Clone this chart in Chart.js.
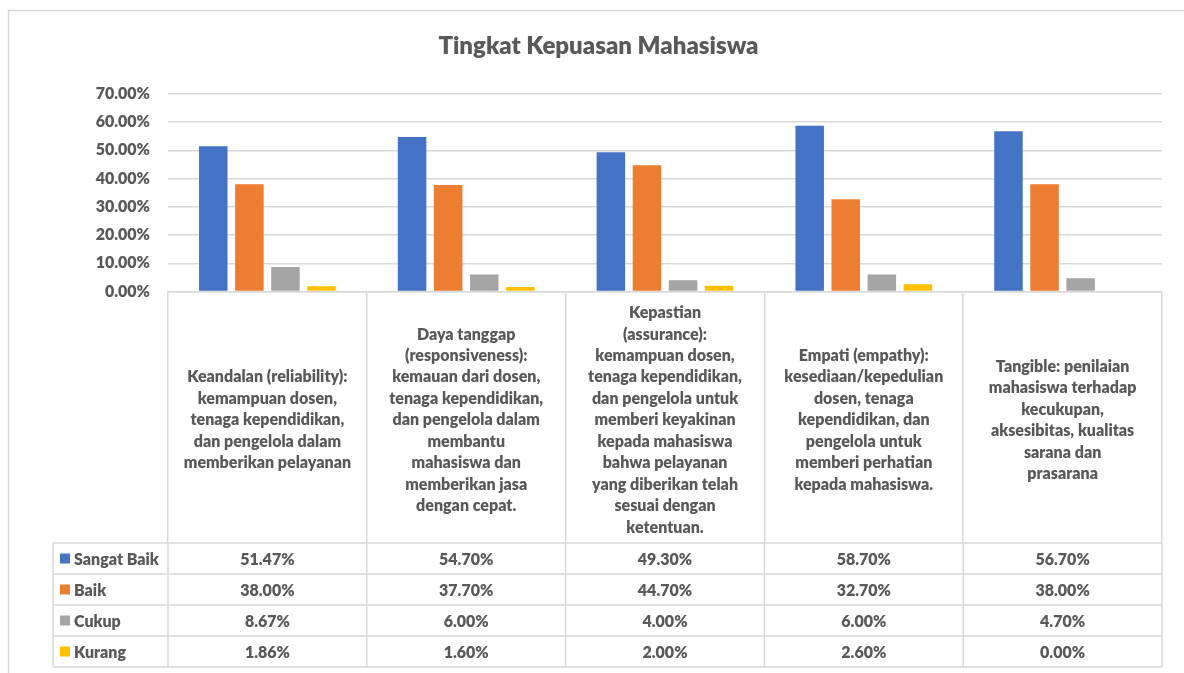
<!DOCTYPE html>
<html>
<head>
<meta charset="utf-8">
<title>Tingkat Kepuasan Mahasiswa</title>
<script src="https://cdn.jsdelivr.net/npm/chart.js@4.4.1/dist/chart.umd.min.js"></script>
<style>
  html, body { margin: 0; padding: 0; background: #fff; overflow: hidden; }
  #wrap { position: relative; width: 1184px; height: 673px; }
</style>
</head>
<body>
<div id="wrap"><canvas id="myChart" width="1184" height="673"></canvas></div>
<script>
// aspek kepuasan (label kategori, per baris)
const categories = [
  ["Keandalan (reliability):", "kemampuan dosen,", "tenaga kependidikan,", "dan pengelola dalam", "memberikan pelayanan"],
  ["Daya tanggap", "(responsiveness):", "kemauan dari dosen,", "tenaga kependidikan,", "dan pengelola dalam", "membantu", "mahasiswa dan", "memberikan jasa", "dengan cepat."],
  ["Kepastian", "(assurance):", "kemampuan dosen,", "tenaga kependidikan,", "dan pengelola untuk", "memberi keyakinan", "kepada mahasiswa", "bahwa pelayanan", "yang diberikan telah", "sesuai dengan", "ketentuan."],
  ["Empati (empathy):", "kesediaan/kepedulian", "dosen, tenaga", "kependidikan, dan", "pengelola untuk", "memberi perhatian", "kepada mahasiswa."],
  ["Tangible: penilaian", "mahasiswa terhadap", "kecukupan,", "aksesibitas, kualitas", "sarana dan", "prasarana"]
];

const sangatBaik = [51.47, 54.70, 49.30, 58.70, 56.70];
const baik = [38.00, 37.70, 44.70, 32.70, 38.00];
const cukup = [8.67, 6.00, 4.00, 6.00, 4.70];
const kurang = [1.86, 1.60, 2.00, 2.60, 0.00];

const seriesNames = ["Sangat Baik", "Baik", "Cukup", "Kurang"];
const seriesColors = ["#4472C4", "#ED7D31", "#A5A5A5", "#FFC000"];
const yTicks = [0, 10, 20, 30, 40, 50, 60, 70];

const FONT = "Lato, 'Open Sans', sans-serif";
const WEIGHT = "800";
const TEXT = "#595959";
const LINE = "#d9d9d9";

Chart.defaults.font.family = FONT;
Chart.defaults.color = TEXT;

function pct(v) {
  return v.toFixed(2) + "%";
}

// frame around the chart, like the Excel chart area
const framePlugin = {
  id: "frame",
  beforeDraw(chart) {
    const ctx = chart.ctx;
    ctx.save();
    ctx.fillStyle = "#fff";
    ctx.fillRect(0, 0, chart.width, chart.height);
    ctx.strokeStyle = LINE;
    ctx.lineWidth = 1.5;
    ctx.beginPath();
    ctx.moveTo(8.5, chart.height + 2);
    ctx.lineTo(8.5, 10.5);
    ctx.lineTo(chart.width + 2, 10.5);
    ctx.stroke();
    ctx.restore();
  }
};

// data table under the x axis (legend keys + values)
const dataTablePlugin = {
  id: "dataTable",
  afterDraw(chart) {
    const ctx = chart.ctx;
    const x = chart.scales.x;
    const half = (x.getPixelForValue(1) - x.getPixelForValue(0)) / 2;
    const top = x.bottom;
    const rowH = 31;
    const left = 53;
    const datasets = chart.data.datasets;
    const bottom = top + rowH * datasets.length;

    ctx.save();
    ctx.strokeStyle = LINE;
    ctx.lineWidth = 1.5;
    ctx.beginPath();
    for (let r = 0; r <= datasets.length; r++) {
      const y = top + r * rowH;
      ctx.moveTo(left, y);
      ctx.lineTo(x.right, y);
    }
    ctx.moveTo(left, top);
    ctx.lineTo(left, bottom);
    for (let i = 0; i <= categories.length; i++) {
      const bx = x.getPixelForValue(0) - half + i * half * 2;
      ctx.moveTo(bx, top);
      ctx.lineTo(bx, bottom);
    }
    ctx.stroke();

    ctx.font = WEIGHT + " 16px " + FONT;
    ctx.textBaseline = "middle";
    datasets.forEach((ds, r) => {
      const cy = top + r * rowH + rowH / 2;
      ctx.fillStyle = ds.backgroundColor;
      ctx.fillRect(left + 7, cy - 5, 10, 10);
      ctx.fillStyle = TEXT;
      ctx.textAlign = "left";
      ctx.fillText(ds.label, left + 21, cy + 1);
      ctx.textAlign = "center";
      ds.data.forEach((v, i) => {
        ctx.fillText(pct(v), x.getPixelForValue(i), cy + 1);
      });
    });
    ctx.restore();
  }
};

const ctx = document.getElementById("myChart").getContext("2d");

const myChart = new Chart(ctx, {
  type: "bar",
  data: {
    labels: categories,
    datasets: [sangatBaik, baik, cukup, kurang].map((values, i) => ({
      label: seriesNames[i],
      data: values,
      backgroundColor: seriesColors[i],
      borderWidth: 0,
      categoryPercentage: 0.726,
      barPercentage: 0.79
    }))
  },
  options: {
    responsive: false,
    animation: false,
    layout: {
      padding: { left: 35, right: 22, top: 0, bottom: 130 }
    },
    plugins: {
      legend: { display: false },
      tooltip: { enabled: false },
      title: {
        display: true,
        text: "Tingkat Kepuasan Mahasiswa",
        color: TEXT,
        font: { family: FONT, size: 24, weight: WEIGHT },
        padding: { top: 32, bottom: 33 }
      }
    },
    scales: {
      x: {
        border: { display: true, color: LINE, width: 1.5 },
        grid: {
          display: true,
          drawOnChartArea: false,
          drawTicks: true,
          tickLength: 251.5,
          color: LINE,
          lineWidth: 1.5
        },
        ticks: {
          autoSkip: false,
          maxRotation: 0,
          minRotation: 0,
          crossAlign: "center",
          padding: -230,
          color: TEXT,
          font: { family: FONT, size: 16, weight: WEIGHT, lineHeight: 1.34 }
        },
        afterFit(scale) {
          scale.height = 251.5;
        }
      },
      y: {
        min: 0,
        max: 70,
        border: { display: false },
        grid: { color: LINE, lineWidth: 1.5, drawTicks: false },
        afterBuildTicks(scale) {
          scale.ticks = yTicks.map(v => ({ value: v }));
        },
        ticks: {
          padding: 18,
          color: TEXT,
          font: { family: FONT, size: 16, weight: WEIGHT },
          callback: v => pct(v)
        },
        afterFit(scale) {
          scale.width = 133;
        }
      }
    }
  },
  plugins: [framePlugin, dataTablePlugin]
});
</script>
</body>
</html>
